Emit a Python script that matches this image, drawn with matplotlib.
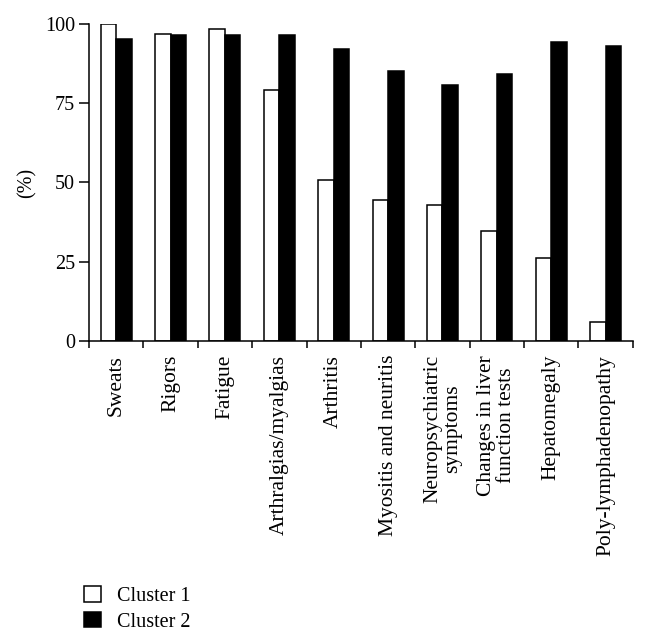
import numpy as np
import matplotlib
matplotlib.use("Agg")
import matplotlib.pyplot as plt

categories = ["Sweats", "Rigors", "Fatigue", "Arthralgias/myalgias", "Arthritis",
              "Myositis and neuritis", "Neuropsychiatric\nsymptoms",
              "Changes in liver\nfunction tests", "Hepatomegaly", "Poly-lymphadenopathy"]
cluster1 = [100.0, 97.0, 98.5, 79.2, 50.8, 44.5, 42.8, 34.8, 26.3, 5.9]
cluster2 = [95.4, 96.6, 96.6, 96.6, 92.0, 85.2, 80.7, 84.1, 94.2, 93.2]
series_names = ["Cluster 1", "Cluster 2"]
yticks = [0, 25, 50, 75, 100]

plt.rcParams["font.family"] = ["Liberation Serif", "DejaVu Serif"]

fig = plt.figure(figsize=(6.47, 6.39), dpi=100)
ax = fig.add_axes([0.1376, 0.4664, 0.8404, 0.4960])

x = np.arange(len(categories))
w = 0.285
ax.bar(x - w / 2, cluster1, w, color="white", edgecolor="black", linewidth=1.1,
       label=series_names[0])
ax.bar(x + w / 2, cluster2, w, color="black", edgecolor="black", linewidth=1.1,
       label=series_names[1])

ax.set_xlim(-0.5, len(categories) - 0.5)
ax.set_ylim(0, 100)
ax.set_yticks(yticks)
ax.tick_params(axis="y", labelsize=14.5, length=7, width=1.1, direction="out", pad=3)

# category ticks sit between groups; labels go at the group centres
ax.set_xticks(np.arange(len(categories) + 1) - 0.5)
ax.set_xticklabels([])
ax.set_xticks(x, minor=True)
ax.set_xticklabels(categories, minor=True, rotation=90, fontsize=15.5,
                   va="top", ha="center", multialignment="center",
                   linespacing=1.05)
ax.tick_params(axis="x", which="major", length=5, width=1.1, direction="out")
ax.tick_params(axis="x", which="minor", length=0, pad=10)

for side in ["top", "right"]:
    ax.spines[side].set_visible(False)
for side in ["left", "bottom"]:
    ax.spines[side].set_linewidth(1.1)

ax.set_ylabel("(%)", fontsize=14.5, labelpad=6)

fig.legend(loc="upper left", bbox_to_anchor=(0.118, 0.095), fontsize=14.5,
           frameon=False, handlelength=0.8, handleheight=0.8, handletextpad=0.8,
           labelspacing=0.3, borderaxespad=0)

fig.savefig("out.png", dpi=100)
